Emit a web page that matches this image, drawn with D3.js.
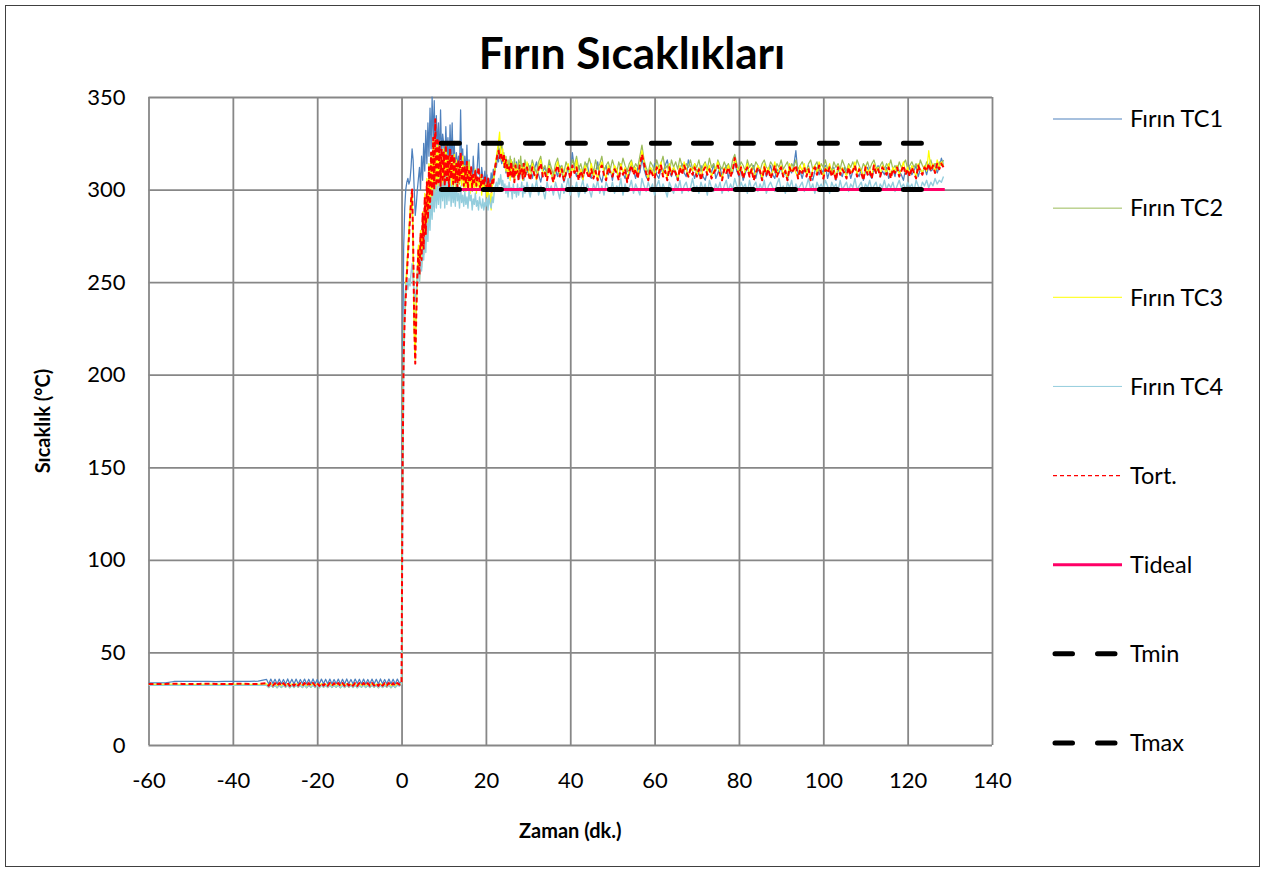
<!DOCTYPE html>
<html><head><meta charset="utf-8">
<script src="https://cdn.jsdelivr.net/npm/d3@7"></script>
<style>body{margin:0;background:#fff} text{font-family:Lato,"Open Sans",sans-serif;fill:#000}</style>
</head><body><svg id="c" width="1265" height="872"></svg>
<script>
const chartTitle = "Fırın Sıcaklıkları";
const xTitle = "Zaman (dk.)";
const yTitle = "Sıcaklık (°C)";
const xTicks = [-60,-40,-20,0,20,40,60,80,100,120,140];
const yTicks = [0,50,100,150,200,250,300,350];
const seriesNames = ["Fırın TC1","Fırın TC2","Fırın TC3","Fırın TC4","Tort.","Tideal","Tmin","Tmax"];

// logged time samples (minutes)
const minutes = [].concat(d3.range(-60,-32,2), d3.range(-32,0,0.5), d3.range(0,30,0.25), d3.range(30,129,0.5));

const tc1 = [
33.5,33.5,33.5,34.3,34.3,34.3,34.3,34.3,34.2,34.3,34.3,34.3,34.3,34.5,
35.4,33.0,35.6,33.2,35.5,32.9,35.6,33.1,35.4,33.0,35.7,33.1,35.5,32.9,35.6,33.0,
35.4,33.2,35.6,33.0,35.5,32.9,35.7,33.1,35.4,33.0,35.6,33.1,35.5,32.9,35.6,33.0,
35.4,33.1,35.6,33.0,35.5,32.9,35.7,33.1,35.4,33.0,35.6,33.2,35.5,32.9,35.6,33.0,
35.4,33.1,35.6,33.0,35.5,32.9,35.7,33.1,35.4,33.0,35.6,33.1,35.5,33.0,35.6,33.4,
34,200,268,290,300,304,306,303,305,312,
322,316,300,286,292,300,306,312,300,318,
305,325,310,332,314,336,318,344,322,350,
326,348,318,340,322,336,316,343,318,330,
325,312,334,318,328,308,335,315,336,312,
326,306,320,312,318,309,343,314,322,306,
318,309,324,305,316,310,312,304,318,308,
310,306,314,325,308,303,312,307,305,310,
304,308,300,306,302,309,305,311,307,314,
312,318,315,322,317,314,320,312,316,309,
314,306,312,309,316,307,313,305,311,315,
308,313,306,311,309,314,305,312,308,311,
309,313,306,311,315,308,304,310,312,307,
314,309,305,311,307,313,310,304,308,312,
306,320,311,307,313,309,305,312,314,308,
306,311,309,315,307,304,310,313,308,311,
305,312,310,307,314,309,306,311,308,313,
310,306,312,309,317,311,307,305,312,309,
314,308,306,311,309,313,316,310,307,312,
308,305,311,314,309,307,316,312,310,306,
311,308,313,307,305,310,312,309,314,306,
309,312,307,310,313,306,311,309,315,310,
307,311,305,309,312,308,310,313,306,311,
309,305,312,307,310,313,308,306,311,309,
312,307,310,305,311,309,313,321,308,310,
306,311,309,313,307,305,310,312,308,311,
309,313,306,310,308,312,305,311,309,307,
312,308,311,306,310,313,309,307,311,305,
310,312,308,306,311,309,313,307,310,308,
312,306,309,311,307,313,310,308,305,311,
309,312,308,310,313,307,311,309,312,308,
313,310,311,314,309,312,317,313
];

const tc2 = [
32.5,32.5,32.4,32.5,32.5,32.4,32.5,32.5,32.5,32.4,32.5,32.5,32.4,32.5,
32.4,31.0,32.5,31.1,32.3,30.9,32.5,31.0,32.4,31.1,32.5,30.9,32.3,31.0,32.5,31.1,
32.4,31.0,32.5,30.9,32.3,31.1,32.5,31.0,32.4,30.9,32.5,31.1,32.3,31.0,32.5,31.0,
32.4,31.1,32.5,30.9,32.3,31.0,32.5,31.1,32.4,31.0,32.5,30.9,32.3,31.1,32.5,31.0,
32.4,31.0,32.5,31.1,32.3,30.9,32.5,31.0,32.4,31.1,32.5,30.9,32.3,31.0,32.5,32.0,
33,140,215,232,245,256,266,276,285,292,
298,270,225,212,238,255,268,250,275,258,
285,265,295,272,302,280,310,285,318,290,
322,295,325,300,320,302,322,300,318,302,
318,302,321,305,316,300,318,306,314,301,
317,304,312,300,315,303,311,306,313,299,
310,303,314,300,308,305,311,299,307,303,
309,301,306,304,300,307,302,305,299,304,
302,298,305,300,304,301,306,303,309,312,
316,320,324,318,322,326,317,320,314,318,
312,316,310,318,311,315,309,317,312,314,
310,316,312,318,311,314,309,316,313,311,
314,310,316,312,309,315,318,311,313,309,
316,312,308,314,317,311,313,309,315,312,
310,316,313,318,311,314,309,315,312,317,
313,309,316,311,314,318,310,313,315,311,
316,312,309,315,311,317,313,310,314,316,
311,314,312,318,324,316,312,309,315,313,
310,316,312,314,318,311,313,309,316,312,
315,311,317,313,310,314,312,316,311,314,
312,316,310,313,315,311,317,312,314,310,
316,313,311,315,312,314,310,316,319,314,
311,315,313,310,316,312,314,311,315,313,
310,314,316,312,311,315,313,309,314,312,
316,311,313,315,310,314,312,316,311,313,
315,312,310,314,316,311,313,315,310,314,
312,316,311,313,310,315,312,314,311,316,
313,310,314,312,315,311,316,313,310,314,
312,315,311,314,316,312,310,313,315,311,
314,312,316,311,313,310,315,312,314,316,
311,313,315,312,314,310,316,313,311,315,
313,316,312,314,311,315,313,316
];

const tc3 = [
32.8,32.8,32.8,32.9,32.8,32.8,32.8,32.9,32.8,32.8,32.8,32.9,32.8,32.8,
33.0,32.0,33.1,32.1,33.0,31.9,33.1,32.0,33.0,32.1,33.1,31.9,33.0,32.0,33.1,32.1,
33.0,32.0,33.1,31.9,33.0,32.1,33.1,32.0,33.0,31.9,33.1,32.1,33.0,32.0,33.1,32.0,
33.0,32.1,33.1,31.9,33.0,32.0,33.1,32.1,33.0,32.0,33.1,31.9,33.0,32.1,33.1,32.0,
33.0,32.0,33.1,32.1,33.0,31.9,33.1,32.0,33.0,32.1,33.1,31.9,33.0,32.0,33.1,32.5,
33,150,220,236,248,258,268,278,288,296,
300,268,222,208,236,256,270,252,278,260,
288,266,298,274,306,282,314,288,320,292,
326,296,330,300,324,302,326,299,320,303,
322,300,325,304,318,302,320,298,315,303,
319,301,316,299,314,304,312,302,318,300,
313,299,310,303,315,298,309,302,307,300,
311,298,306,303,300,308,297,305,301,299,
303,296,300,293,298,289,302,305,308,314,
318,322,326,331,320,316,322,313,318,310,
315,307,313,305,316,309,312,304,314,308,
311,306,314,309,312,305,313,307,310,315,
311,306,314,309,305,312,316,308,310,306,
313,309,304,311,315,308,312,306,310,314,
307,312,309,316,306,311,305,313,310,308,
314,307,311,305,312,315,309,306,313,310,
308,313,311,306,314,309,312,305,311,315,
309,312,307,314,321,315,309,306,312,310,
307,313,310,315,308,311,306,314,309,312,
310,306,313,309,315,311,307,312,310,314,
308,312,306,311,314,309,313,307,310,312,
315,309,306,312,310,313,308,311,317,312,
309,313,307,311,314,308,312,306,310,313,
311,306,314,309,312,307,310,315,308,311,
313,308,311,306,314,310,312,309,307,313,
310,314,308,312,306,311,313,309,315,310,
307,312,310,314,308,311,306,313,309,312,
310,307,313,309,311,315,308,312,310,306,
313,309,311,307,314,310,312,308,313,311,
309,314,307,312,310,313,308,311,315,309,
312,308,313,310,307,314,311,309,313,310,
321,311,314,309,316,312,315,313
];

const tc4 = [
32.2,32.2,32.2,32.3,32.2,32.2,32.2,32.3,32.2,32.2,32.2,32.3,32.2,32.2,
32.2,31.2,32.3,31.3,32.2,31.1,32.3,31.2,32.2,31.3,32.3,31.1,32.2,31.2,32.3,31.3,
32.2,31.2,32.3,31.1,32.2,31.3,32.3,31.2,32.2,31.1,32.3,31.3,32.2,31.2,32.3,31.2,
32.2,31.3,32.3,31.1,32.2,31.2,32.3,31.3,32.2,31.2,32.3,31.1,32.2,31.3,32.3,31.2,
32.2,31.2,32.3,31.3,32.2,31.1,32.3,31.2,32.2,31.3,32.3,31.1,32.2,31.2,32.3,31.8,
33,120,200,240,248,250,246,252,248,255,
260,250,244,240,246,252,258,250,262,256,
268,262,276,266,282,272,290,278,296,284,
300,288,304,290,302,292,306,290,304,294,
305,290,308,292,304,294,306,291,302,293,
300,291,304,294,298,290,302,293,297,291,
299,292,296,290,300,294,297,289,295,292,
298,291,294,289,296,292,290,295,289,293,
291,295,289,297,292,290,296,293,299,302,
304,300,306,303,308,302,305,300,303,298,
302,296,304,299,301,295,303,298,300,296,
303,297,301,299,304,296,302,298,300,304,
301,296,303,299,305,297,302,300,295,304,
299,302,297,304,300,295,303,298,301,306,
297,302,299,304,296,301,305,298,303,300,
296,303,300,305,298,302,297,304,301,299,
304,298,302,300,306,297,303,299,301,305,
298,303,300,297,306,302,299,304,300,303,
297,302,305,299,303,300,296,304,301,298,
303,300,305,298,302,304,299,301,306,300,
302,298,304,300,303,297,305,301,299,303,
300,304,298,302,305,299,303,300,306,302,
299,304,301,303,298,305,300,302,304,299,
303,300,305,298,302,304,301,299,303,306,
300,302,298,304,301,305,299,303,300,302,
304,299,302,306,300,303,298,304,301,303,
300,305,302,298,304,301,303,299,305,300,
302,304,299,303,301,306,300,302,304,299,
303,301,305,300,302,304,299,303,301,305,
300,303,301,304,299,302,305,301,303,300,
304,301,303,299,305,302,300,304,302,305,
301,304,302,306,303,305,304,307
];

const tort = [
33.0,33.0,33.0,33.1,33.0,33.0,33.0,33.1,33.0,33.0,33.0,33.1,33.0,33.0,
33.4,32.0,33.5,32.1,33.4,31.9,33.5,32.0,33.4,32.1,33.5,31.9,33.4,32.0,33.5,32.1,
33.4,32.0,33.5,31.9,33.4,32.1,33.5,32.0,33.4,31.9,33.5,32.1,33.4,32.0,33.5,32.0,
33.4,32.1,33.5,31.9,33.4,32.0,33.5,32.1,33.4,32.0,33.5,31.9,33.4,32.1,33.5,32.0,
33.4,32.0,33.5,32.1,33.4,31.9,33.5,32.0,33.4,32.1,33.5,31.9,33.4,32.0,33.5,32.6,
33,150,210,230,242,254,264,274,284,294,
300,272,228,206,232,254,268,254,276,262,
287,268,296,276,304,284,312,290,320,296,
328,300,338,302,328,304,326,302,322,304,
320,302,324,305,318,301,322,306,319,303,
318,304,314,301,316,305,320,306,315,302,
312,303,315,300,310,305,312,301,308,304,
310,302,307,312,303,300,308,304,302,307,
303,300,306,301,304,299,305,303,309,313,
316,319,321,317,320,318,315,319,312,316,
313,306,312,308,315,307,311,304,313,309,
310,305,313,308,311,306,314,307,310,312,
309,305,312,308,306,311,314,307,309,305,
312,308,304,310,313,307,311,305,309,312,
306,313,309,312,305,310,307,311,309,306,
311,306,310,305,311,313,308,305,312,309,
307,311,309,305,312,308,311,304,310,313,
308,311,306,313,319,314,309,305,311,308,
306,312,309,313,307,310,305,312,308,311,
309,305,312,308,313,310,307,311,308,312,
307,311,305,310,312,308,311,306,309,311,
313,308,305,311,309,312,307,310,317,311,
308,312,306,310,312,307,311,305,309,312,
310,305,312,308,311,306,309,313,307,310,
312,307,310,305,312,309,311,313,306,311,
309,312,307,311,305,310,312,308,313,309,
306,311,309,312,307,310,305,312,308,311,
309,306,312,308,310,313,307,311,309,305,
312,308,310,306,313,309,311,307,312,310,
308,312,306,311,309,312,307,310,313,308,
311,307,312,309,306,313,310,308,312,310,
314,310,313,309,314,311,314,312
];

// set-point series
const limitMinutes = [9.45, 128.8];
const tideal = [300, 300];
const tmin = [300, 300];
const tmax = [325, 325];

const svg = d3.select("#c");
const m = {left:148.5, right:992, top:97, bottom:745};
const x = d3.scaleLinear().domain([-60,140]).range([m.left,m.right]);
const y = d3.scaleLinear().domain([0,350]).range([m.bottom,m.top]);

svg.append("rect").attr("x",5.5).attr("y",5.5).attr("width",1254).attr("height",861)
  .attr("fill","#fff").attr("stroke","#404040").attr("stroke-width",1);

const gx = svg.append("g").attr("transform",`translate(0,${m.bottom})`)
  .call(d3.axisBottom(x).tickValues(xTicks).tickSize(-(m.bottom-m.top)).tickPadding(27).tickFormat(d3.format("d")));
const gy = svg.append("g").attr("transform",`translate(${m.left},0)`)
  .call(d3.axisLeft(y).tickValues(yTicks).tickSize(-(m.right-m.left)).tickPadding(23).tickFormat(d3.format("d")));
[gx,gy].forEach(g=>{
  g.select(".domain").remove();
  g.selectAll(".tick line").attr("stroke","#878787").attr("stroke-width",1.8);
  g.selectAll(".tick text").style("font-family","Lato").style("font-size","22px").attr("fill","#000");
});
gx.selectAll(".tick text").text(d=> d<0 ? "-"+Math.abs(d) : d);

svg.append("defs").append("clipPath").attr("id","clip").append("rect")
  .attr("x",m.left).attr("y",m.top-2).attr("width",m.right-m.left).attr("height",m.bottom-m.top+2);

const line = d3.line().x((d,i)=>x(minutes[i])).y(d=>y(d));
const lineL = d3.line().x((d,i)=>x(limitMinutes[i])).y(d=>y(d));
const plot = svg.append("g").attr("clip-path","url(#clip)");

const styles = [
  {data:tc1, color:"#4f81bd", w:1.25, dash:null, gen:line},
  {data:tc2, color:"#9bbb59", w:1.25, dash:null, gen:line},
  {data:tc3, color:"#ffff00", w:1.25, dash:null, gen:line},
  {data:tc4, color:"#93cddd", w:1.4, dash:null, gen:line},
  {data:tort, color:"#ff0000", w:2, dash:"5,3", gen:line},
  {data:tideal, color:"#ff0066", w:3, dash:null, gen:lineL},
  {data:tmin, color:"#000", w:5, dash:"18,24", gen:lineL, cap:"round"},
  {data:tmax, color:"#000", w:5, dash:"18,24", gen:lineL, cap:"round"}
];
styles.forEach(s=>{
  plot.append("path").attr("d",s.gen(s.data)).attr("fill","none")
    .attr("stroke",s.color).attr("stroke-width",s.w)
    .attr("stroke-dasharray",s.dash).attr("stroke-linecap",s.cap||"butt")
    .attr("stroke-linejoin","round");
});

// legend
const legY = d3.scaleLinear().domain([0,7]).range([119,743]);
const leg = svg.append("g");
seriesNames.forEach((n,i)=>{
  const s = styles[i];
  const yy = legY(i);
  leg.append("line").attr("x1", s.cap ? 1055 : 1053).attr("x2", s.cap?1120:1122).attr("y1",yy).attr("y2",yy)
    .attr("stroke",s.color).attr("stroke-width", i===4?1.2:(i<4?1:s.w))
    .attr("stroke-dasharray", i===4 ? "4,3" : (s.cap? "17.5,25": null))
    .attr("stroke-linecap", s.cap||"butt");
  leg.append("text").attr("x",1130).attr("y",yy).attr("dy","0.35em")
    .style("font-size","23.5px").text(n);
});

// titles
svg.append("text").attr("x",632).attr("y",69).attr("text-anchor","middle")
  .style("font-size","44px").style("font-weight","bold").text(chartTitle);
svg.append("text").attr("x",(m.left+m.right)/2).attr("y",838).attr("text-anchor","middle")
  .style("font-size","20px").style("font-weight","bold").text(xTitle);
svg.append("text").attr("transform",`translate(50,${(m.top+m.bottom)/2}) rotate(-90)`).attr("text-anchor","middle")
  .style("font-size","20px").style("font-weight","bold").text(yTitle);
</script></body></html>
